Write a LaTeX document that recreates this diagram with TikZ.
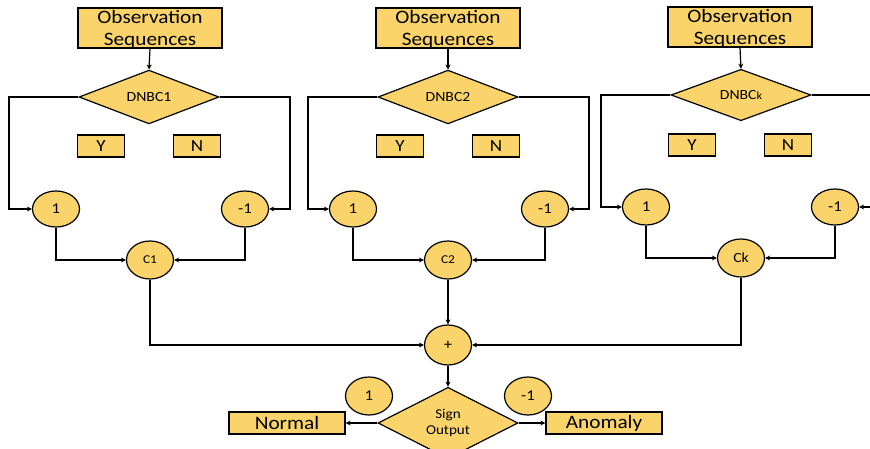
\documentclass[tikz,border=0pt]{standalone}
\usepackage{fontspec}
\setmainfont{Carlito}[FakeStretch=1.12]
\usetikzlibrary{shapes.geometric,arrows.meta}
\definecolor{gold}{HTML}{FAD46B}
\begin{document}
\begin{tikzpicture}[x=1pt,y=-1pt,
  every node/.style={draw=black,fill=gold,line width=1.2pt,inner sep=0pt,align=center},
  obsbox/.style={rectangle,minimum width=144pt,minimum height=40pt,text depth=0pt,font=\fontsize{19}{21.5}\selectfont},
  choice/.style={diamond,minimum width=140pt,minimum height=47pt,font=\fontsize{14}{15}\selectfont},
  ynbox/.style={rectangle,minimum width=47pt,minimum height=22pt,font=\fontsize{17}{17}\selectfont},
  outbox/.style={rectangle,minimum width=116pt,minimum height=22pt,font=\fontsize{19}{19}\selectfont},
  vote/.style={ellipse,minimum width=47pt,minimum height=36pt,font=\fontsize{15}{15}\selectfont},
  sumnode/.style={ellipse,minimum width=47pt,minimum height=38pt,font=\fontsize{12}{12}\selectfont},
  wire/.style={line width=1.2pt},
  arr/.style={wire,-{Stealth[length=5pt,width=5pt]}}]
\useasboundingbox (0,0) rectangle (870,449);

% ---- classifier 1
\node[obsbox] (obs1) at (150,28) {Observation\\Sequences};
\node[choice] (d1) at (149,97) {DNBC1};
\node[ynbox] (y1) at (101,146) {Y};
\node[ynbox] (n1) at (197,146) {N};
\node[vote] (p1) at (56,209) {1};
\node[vote] (m1) at (245,209) {-1};
\node[sumnode] (c1) at (150,260) {C1};
\coordinate (l1) at (9,97);
\coordinate (r1) at (290,97);

% ---- classifier 2
\node[obsbox] (obs2) at (448,28) {Observation\\Sequences};
\node[choice] (d2) at (448,97) {DNBC2};
\node[ynbox] (y2) at (400,146) {Y};
\node[ynbox] (n2) at (496,146) {N};
\node[vote] (p2) at (353,209) {1};
\node[vote] (m2) at (545,209) {-1};
\node[sumnode] (c2) at (448,260) {C2};
\coordinate (l2) at (308,97);
\coordinate (r2) at (589,97);

% ---- classifier k
\node[obsbox] (obs3) at (740,27) {Observation\\Sequences};
\node[choice] (d3) at (741,95) {DNBC{\fontsize{11}{11}\selectfont k}};
\node[ynbox] (y3) at (692,145) {Y};
\node[ynbox] (n3) at (788,145) {N};
\node[vote] (p3) at (646,207) {1};
\node[vote] (m3) at (835,207) {-1};
\node[sumnode,font=\fontsize{14}{14}\selectfont] (c3) at (741,258) {Ck};
\coordinate (l3) at (601,95);
\coordinate (r3) at (870,95);
\coordinate (e3) at (870,207);

% ---- combination and output
\node[sumnode,minimum height=40pt,font=\fontsize{15}{15}\selectfont] (sum) at (448,345) {+};
\node[choice,minimum height=48pt,font=\fontsize{13.5}{16}\selectfont] (sign) at (448,423) {Sign\\Output};
\node[outbox] (normal) at (287,423) {Normal};
\node[outbox] (anomaly) at (604,423) {Anomaly};
\node[vote,minimum height=38pt] (v1) at (369,396) {1};
\node[vote,minimum height=38pt] (v2) at (528,396) {-1};

% ---- connectors
\foreach \k in {1,2,3}{
  \draw[arr] (obs\k.south) -- (d\k.north);
  \draw[arr] (d\k.west) -- (l\k) |- (p\k.west);
  \draw[arr] (p\k.south) |- (c\k.west);
  \draw[arr] (m\k.south) |- (c\k.east);
}
\draw[arr] (d1.east) -- (r1) |- (m1.east);
\draw[arr] (d2.east) -- (r2) |- (m2.east);
\draw[wire] (d3.east) -- (r3);
\draw[arr] (e3) -- (m3.east);

\draw[arr] (c1.south) |- (sum.west);
\draw[arr] (c2.south) -- (sum.north);
\draw[arr] (c3.south) |- (sum.east);
\draw[arr] (sum.south) -- (sign.north);
\draw[arr] (sign.west) -- (normal.east);
\draw[arr] (sign.east) -- (anomaly.west);
\end{tikzpicture}
\end{document}
